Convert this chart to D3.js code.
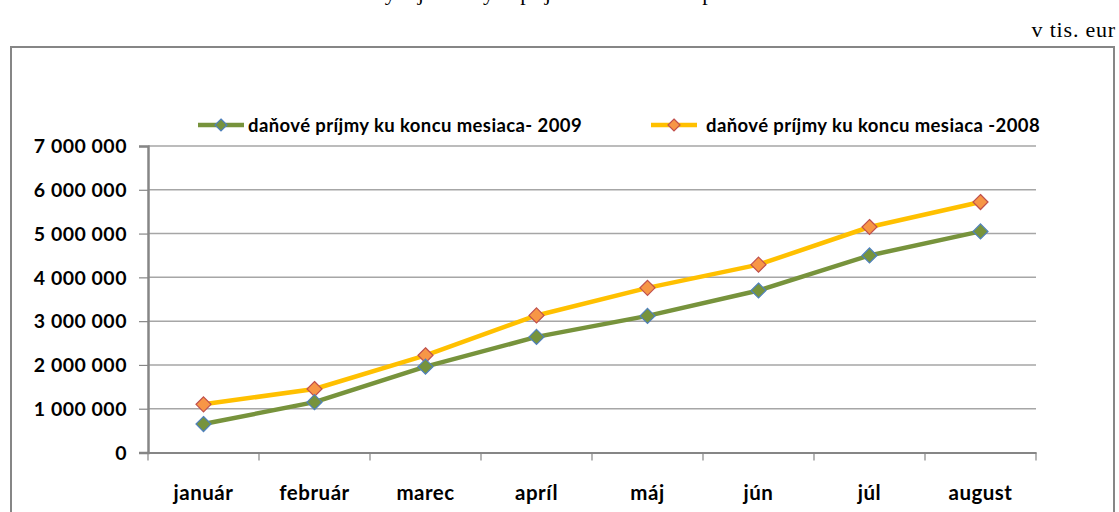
<!DOCTYPE html>
<html>
<head>
<meta charset="UTF-8">
<title>Daňové príjmy</title>
<style>
  body { margin: 0; background: #fff; }
  svg { display: block; }
  .lbl { font-family: Lato, "Open Sans", sans-serif; font-weight: bold; fill: #000; }
</style>
</head>
<body>
<svg></svg>
<script src="https://d3js.org/d3.v7.min.js"></script>
<script>

// data (v tis. eur)
let months = ["január", "február", "marec", "apríl", "máj", "jún", "júl", "august"];
let prijmy2009 = [650000, 1150000, 1960000, 2640000, 3120000, 3700000, 4500000, 5050000];
let prijmy2008 = [1100000, 1450000, 2220000, 3130000, 3760000, 4290000, 5150000, 5720000];
let yTicks = [0, 1000000, 2000000, 3000000, 4000000, 5000000, 6000000, 7000000];
let seriesNames = ["daňové príjmy ku koncu mesiaca- 2009", "daňové príjmy ku koncu mesiaca -2008"];

let width = 1119, height = 512;

let svg = d3.select("svg")
    .attr("width", width)
    .attr("height", height);

// title, cut off by the top edge as in the original
svg.append("text")
    .attr("x", 560)
    .attr("y", 0)
    .attr("text-anchor", "middle")
    .style("font-family", "'Liberation Serif', serif")
    .style("font-size", "22px")
    .text("Vývoj daňových príjmov štátneho rozpočtu");

svg.append("text")
    .attr("x", 1116)
    .attr("y", 37)
    .attr("text-anchor", "end")
    .style("font-family", "'Liberation Serif', serif")
    .style("font-size", "22px")
    .style("letter-spacing", "0.8px")
    .text("v tis. eur");

// outer frame
svg.append("rect")
    .attr("x", 11)
    .attr("y", 47)
    .attr("width", 1103)
    .attr("height", 480)
    .attr("fill", "none")
    .attr("stroke", "#868686")
    .attr("stroke-width", 2);

let pLeft = 148, pRight = 1036, pTop = 146, pBottom = 452.5;

let x = d3.scaleBand()
    .domain(months)
    .range([pLeft, pRight]);

let y = d3.scaleLinear()
    .domain([0, 7000000])
    .range([pBottom, pTop]);

let fmt = d => d3.format(",")(d).replace(/,/g, " ");

// gridlines
svg.append("g")
    .selectAll("line")
    .data(yTicks.slice(1))
    .enter()
    .append("line")
    .attr("x1", pLeft)
    .attr("x2", pRight)
    .attr("y1", d => y(d))
    .attr("y2", d => y(d))
    .attr("stroke", "#a6a6a6")
    .attr("stroke-width", 1.5);

// y axis
let yAxis = svg.append("g")
    .attr("transform", "translate(" + pLeft + ",0)")
    .call(d3.axisLeft(y).tickValues(yTicks).tickSize(9).tickFormat(fmt).tickPadding(12));
yAxis.select(".domain").attr("stroke", "#868686").attr("stroke-width", 2.5);
yAxis.selectAll(".tick line").attr("stroke", "#868686").attr("stroke-width", 1.2);
yAxis.selectAll("text")
    .attr("class", "lbl")
    .style("font-size", "19.5px")
    .style("letter-spacing", "0.5px")
    .attr("dy", "0.35em");

// x axis
let xAxis = svg.append("g")
    .attr("transform", "translate(0," + pBottom + ")")
    .call(d3.axisBottom(x).tickSize(0).tickPadding(33));
xAxis.select(".domain").attr("stroke", "#868686").attr("stroke-width", 2);
xAxis.selectAll("text")
    .attr("class", "lbl")
    .style("font-size", "20.5px")
    .style("letter-spacing", "0.5px");

// x ticks between categories
svg.append("g")
    .selectAll("line")
    .data(months.concat(["_end"]))
    .enter()
    .append("line")
    .attr("x1", (d, i) => pLeft + i * x.step())
    .attr("x2", (d, i) => pLeft + i * x.step())
    .attr("y1", pBottom)
    .attr("y2", pBottom + 8)
    .attr("stroke", "#868686")
    .attr("stroke-width", 1.2);

let series = [
    { name: seriesNames[0], values: prijmy2009, line: "#77933c", fill: "#77933c", stroke: "#4f81bd" },
    { name: seriesNames[1], values: prijmy2008, line: "#ffc000", fill: "#f79646", stroke: "#c0504d" }
];

let line = d3.line()
    .x((d, i) => x(months[i]) + x.bandwidth() / 2)
    .y(d => y(d));

let diamond = s => "M0," + (-s) + "L" + s + ",0L0," + s + "L" + (-s) + ",0Z";

// draw 2008 first, then 2009 on top
[series[1], series[0]].forEach(s => {
    svg.append("path")
        .datum(s.values)
        .attr("fill", "none")
        .attr("stroke", s.line)
        .attr("stroke-width", 4.5)
        .attr("stroke-linejoin", "round")
        .attr("d", line);

    svg.append("g")
        .selectAll("path")
        .data(s.values)
        .enter()
        .append("path")
        .attr("transform", (d, i) => "translate(" + (x(months[i]) + x.bandwidth() / 2) + "," + y(d) + ")")
        .attr("d", diamond(7.5))
        .attr("fill", s.fill)
        .attr("stroke", s.stroke)
        .attr("stroke-width", 1.2);
});

// legend
let legendX = [198, 651];
let legend = svg.selectAll("g.legend")
    .data(series)
    .enter()
    .append("g")
    .attr("class", "legend")
    .attr("transform", (d, i) => "translate(" + legendX[i] + ",125)");

legend.append("line")
    .attr("x1", 0)
    .attr("x2", 46)
    .attr("stroke", d => d.line)
    .attr("stroke-width", 4.5);

legend.append("path")
    .attr("transform", "translate(23,0)")
    .attr("d", diamond(6))
    .attr("fill", d => d.fill)
    .attr("stroke", d => d.stroke)
    .attr("stroke-width", 1.2);

legend.append("text")
    .attr("class", "lbl")
    .attr("x", (d, i) => i == 0 ? 50 : 55)
    .attr("y", 6.5)
    .style("font-size", "18.5px")
    .style("letter-spacing", "0.4px")
    .text(d => d.name);

</script>
</body>
</html>
